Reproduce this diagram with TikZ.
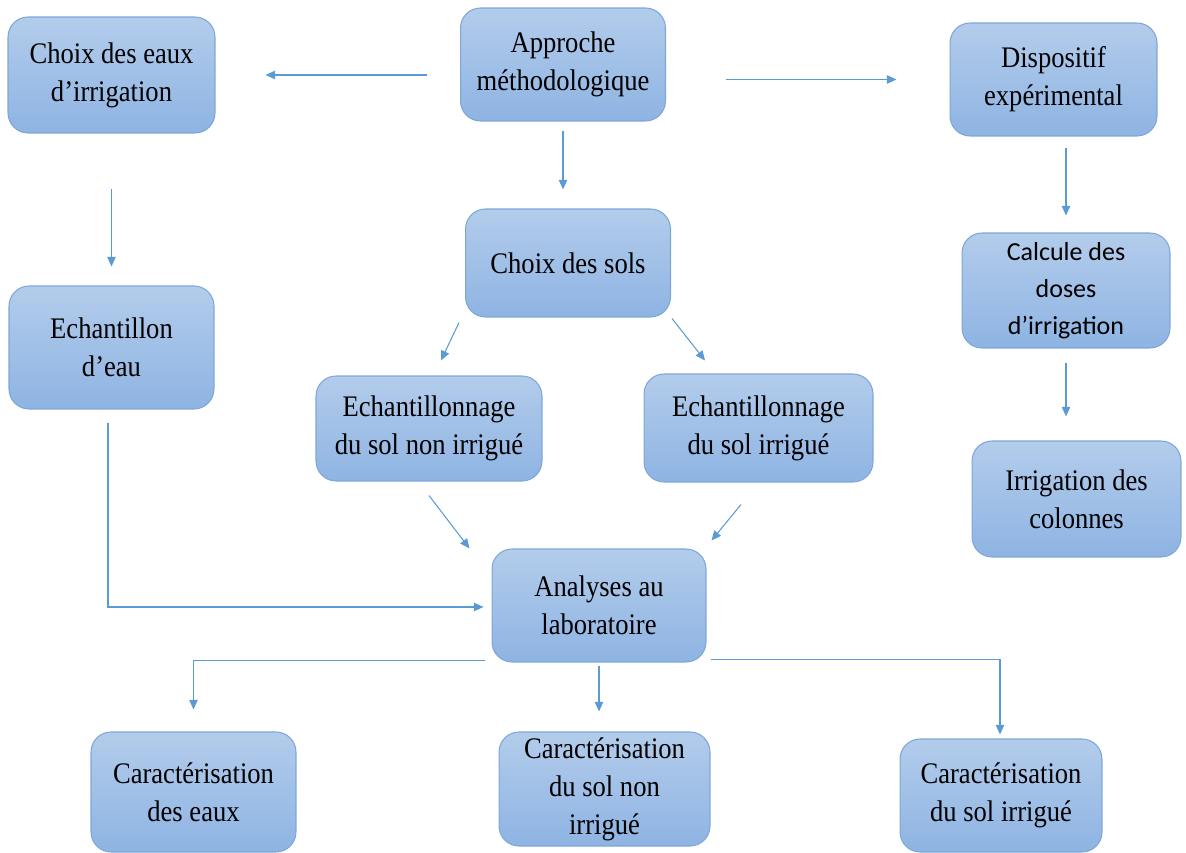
\documentclass[tikz,border=0pt]{standalone}
\usepackage{fontspec}
\setmainfont[FakeStretch=0.89]{Liberation Serif}
\newfontfamily\calibri{Carlito}
\usetikzlibrary{arrows.meta}
\definecolor{haut}{RGB}{179,204,235}
\definecolor{bas}{RGB}{142,180,227}
\definecolor{bord}{RGB}{125,167,217}
\definecolor{trait}{RGB}{91,155,213}
\begin{document}
\begin{tikzpicture}[x=0.02cm, y=-0.02cm,
	bloc/.style={rectangle, rounded corners=0.4cm, draw=bord, line width=0.6pt, top color=haut, bottom color=bas, align=center, minimum width=4.1cm, minimum height=2.26cm, inner sep=1pt, font=\fontsize{17}{21.6}\selectfont},
	fleche/.style={draw=trait, line width=0.6pt, -{Triangle[length=5.5pt, width=4.8pt]}}]
	\useasboundingbox (0,0) rectangle (1186,852);
	\node[bloc, minimum width=4.14cm, minimum height=2.32cm] (CE) at (111.5,75) {Choix des eaux\\d’irrigation};
	\node[bloc] (AM) at (563,64.5) {Approche\\méthodologique};
	\node[bloc, minimum width=4.14cm] (DE) at (1053.5,79.5) {Dispositif\\expérimental};
	\node[bloc, minimum height=2.16cm] (CS) at (568,263) {Choix des sols};
	\node[bloc, minimum width=4.16cm, minimum height=2.3cm, font=\calibri\fontsize{14.8}{21}\selectfont] (CD) at (1066,290.5) {Calcule des\\doses\\d’irrigation};
	\node[bloc, minimum height=2.46cm] (EE) at (111.5,347.5) {Echantillon\\d’eau};
	\node[bloc, minimum width=4.52cm, minimum height=2.1cm] (EN) at (429,428.5) {Echantillonnage\\du sol non irrigué};
	\node[bloc, minimum width=4.58cm, minimum height=2.16cm] (EI) at (758.5,428) {Echantillonnage\\du sol irrigué};
	\node[bloc, minimum width=4.18cm, minimum height=2.32cm] (IC) at (1076.5,499) {Irrigation des\\colonnes};
	\node[bloc, minimum width=4.28cm] (AL) at (599,605.5) {Analyses au\\laboratoire};
	\node[bloc, minimum height=2.4cm] (KE) at (193.5,792) {Caractérisation\\des eaux};
	\node[bloc, minimum width=4.22cm, minimum height=2.28cm] (KN) at (604.5,789) {Caractérisation\\du sol non\\irrigué};
	\node[bloc, minimum width=4.04cm] (KI) at (1001,795.5) {Caractérisation\\du sol irrigué};
	\draw[fleche, shorten <=0.66cm, shorten >=1cm] (AM.west |- CE.east) -- (CE.east);
	\draw[fleche, shorten <=1.2cm, shorten >=1.06cm] (AM.east |- DE.west) -- (DE.west);
	\draw[fleche, shorten <=0.18cm, shorten >=0.38cm] (AM.south) -- (AM.south |- CS.north);
	\draw[fleche, shorten <=1.1cm, shorten >=0.38cm] (CE.south) -- (EE.north);
	\draw[fleche, shorten <=0.22cm, shorten >=0.34cm] (DE.south -| CD.north) -- (CD.north);
	\draw[fleche, shorten <=0.28cm, shorten >=0.48cm] (CD.south) -- (CD.south |- IC.north);
	\draw[fleche] ([shift={(-6,5)}]CS.south west) -- ([shift={(12,-15)}]EN.north);
	\draw[fleche] ([shift={(1,1)}]CS.south east) -- ([shift={(-53.5,-13)}]EI.north);
	\draw[fleche] ([shift={(0,14)}]EN.south) -- ([shift={(-22,0)}]AL.north west);
	\draw[fleche] ([shift={(-17.5,22)}]EI.south) -- ([shift={(5,-8)}]AL.north east);
	\draw[fleche] ([shift={(-3.5,13)}]EE.south) |- ([shift={(-8,1.5)}]AL.west);
	\draw[fleche] ([shift={(-7,-2)}]AL.south west) -| ([shift={(0,-22)}]KE.north);
	\draw[fleche, shorten <=0.06cm, shorten >=0.4cm] (AL.south) -- (AL.south |- KN.north);
	\draw[fleche] ([shift={(4,-3)}]AL.south east) -| ([shift={(-1,-4)}]KI.north);
\end{tikzpicture}
\end{document}
